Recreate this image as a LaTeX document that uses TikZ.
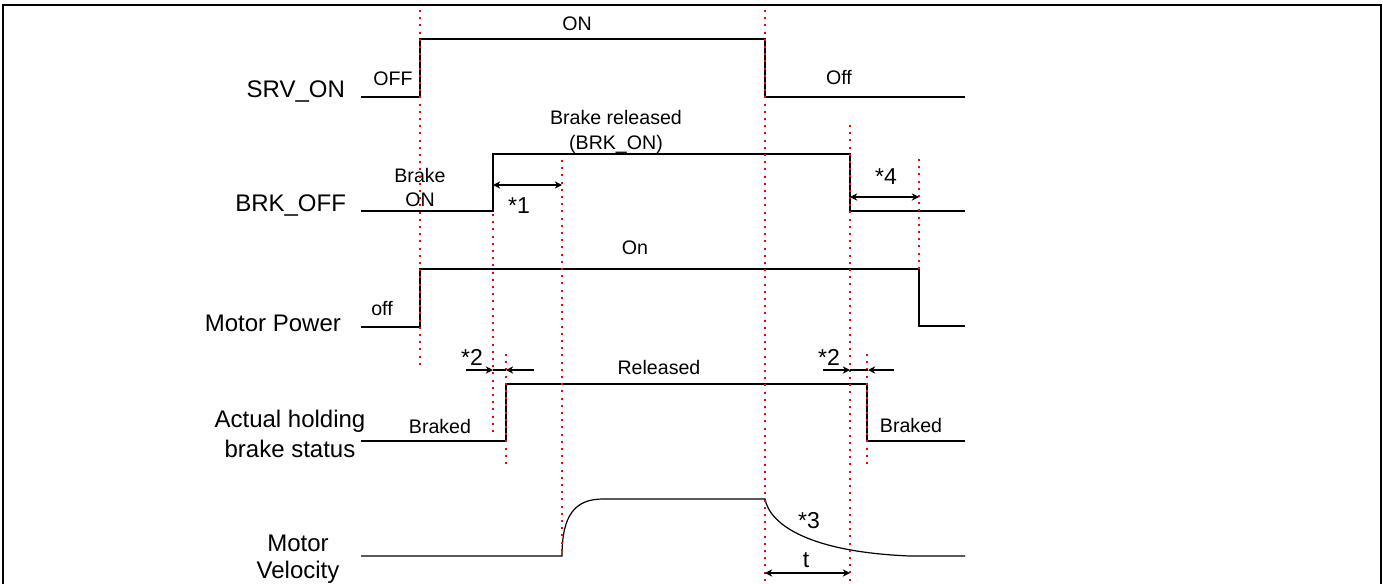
\documentclass[tikz,border=0pt]{standalone}
\usepackage{fontspec}
\setmainfont{Liberation Sans}
\usepackage{tikz}
\usetikzlibrary{arrows.meta, positioning, calc}
\definecolor{markRed}{RGB}{255, 0, 0}

\begin{document}
\begin{tikzpicture}[
  x=0.5pt, y=-0.5pt,
  sig/.style={draw=black, line width=0.8pt, line join=miter},
  marker/.style={draw=markRed, line width=1pt, dash pattern=on 1pt off 2.6pt},
  dimarrow/.style={line width=0.7pt},
  signame/.style={font=\fontsize{12}{15}\selectfont, align=center, anchor=base},
  stlbl/.style={font=\fontsize{9.8}{12}\selectfont, anchor=base},
  notelbl/.style={font=\fontsize{11.5}{13}\selectfont, anchor=base},
  >={Stealth[length=3.6pt, width=3.6pt]}
]
  \useasboundingbox (0,0) rectangle (1383,584);

  % Frame (open at the bottom)
  \draw[line width=1pt] (3,584) -- (3,5) -- (1381,5) -- (1381,584);

  % Signal names
  \node[signame, anchor=base east] (srv) at (352,97) {SRV\_ON};
  \node[signame, anchor=base east] (brk) at (353,211) {BRK\_OFF};
  \node[signame, anchor=base east] (mpw) at (348,331) {Motor Power};
  \node[signame] (ahb) at (290,457) {Actual holding\\brake status};
  \node[signame, font=\fontsize{12}{13.3}\selectfont] (vel) at (298,578) {Motor\\Velocity};

  % Waveforms
  \draw[sig] (361,97) -- (420,97) -- (420,39) -- (765,39) -- (765,97) -- (965,97);
  \draw[sig] (361,211) -- (493,211) -- (493,154) -- (850,154) -- (850,211) -- (965,211);
  \draw[sig] (361,327) -- (420,327) -- (420,269) -- (919,269) -- (919,326) -- (965,326);
  \draw[sig] (361,441) -- (506,441) -- (506,384) -- (867,384) -- (867,441) -- (965,441);
  \draw[sig, line width=0.6pt] (361,556) -- (562,556)
    .. controls (562,515) and (575,499) .. (603,499) -- (765,499)
    .. controls (770,525) and (810,552) .. (910,556) -- (965,556);

  % State labels
  \node[stlbl] (srvoff) at (393,85) {OFF};
  \node[stlbl] (srvon) at (577,30) {ON};
  \node[stlbl] (srvoffb) at (839,84) {Off};
  \node[stlbl, align=center] (brkon) at (420,206) {Brake\\ON};
  \node[stlbl, align=center, font=\fontsize{9.8}{12.5}\selectfont] (brkrel) at (616,149) {Brake released\\(BRK\_ON)};
  \node[stlbl] (mpoff) at (382,315) {off};
  \node[stlbl] (mpon) at (635,254) {On};
  \node[stlbl] (ahbl) at (440,433) {Braked};
  \node[stlbl] (ahrel) at (659,374) {Released};
  \node[stlbl] (ahbr) at (911,432) {Braked};

  % Timing marks
  \foreach \mx/\mtop/\mbot in {420/10/368, 493/214/436, 562/160/556,
      765/10/584, 850/125/584, 506/354/466, 867/354/466, 919/159/269}
    \draw[marker] (\mx,\mtop) -- (\mx,\mbot);

  % Delay arrows
  \coordinate (d1a) at (493,185);  \coordinate (d1b) at (562,185);
  \coordinate (d4a) at (850,197);  \coordinate (d4b) at (919,197);
  \coordinate (d2a) at (466,370);  \coordinate (d2b) at (493,370);
  \coordinate (d2c) at (506,370);  \coordinate (d2d) at (534,370);
  \coordinate (d2e) at (823,370);  \coordinate (d2f) at (850,370);
  \coordinate (d2g) at (868,370);  \coordinate (d2h) at (894,370);
  \coordinate (dta) at (765,573);  \coordinate (dtb) at (850,573);
  \draw[dimarrow, <->] (d1a) -- (d1b);
  \draw[dimarrow, <->] (d4a) -- (d4b);
  \draw[dimarrow, <->] (dta) -- (dtb);
  \draw[dimarrow, ->] (d2a) -- (d2b);
  \draw[dimarrow] (d2b) -- (d2c);
  \draw[dimarrow, ->] (d2d) -- (d2c);
  \draw[dimarrow, ->] (d2e) -- (d2f);
  \draw[dimarrow] (d2f) -- (d2g);
  \draw[dimarrow, ->] (d2h) -- (d2g);

  % Notes
  \node[notelbl] (n1) at (519,213) {*1};
  \node[notelbl] (n2a) at (472,365) {*2};
  \node[notelbl] (n2b) at (829,365) {*2};
  \node[notelbl] (n3) at (809,528) {*3};
  \node[notelbl] (n4) at (886,184) {*4};
  \node[notelbl] (nt) at (806,567) {t};

\end{tikzpicture}
\end{document}
